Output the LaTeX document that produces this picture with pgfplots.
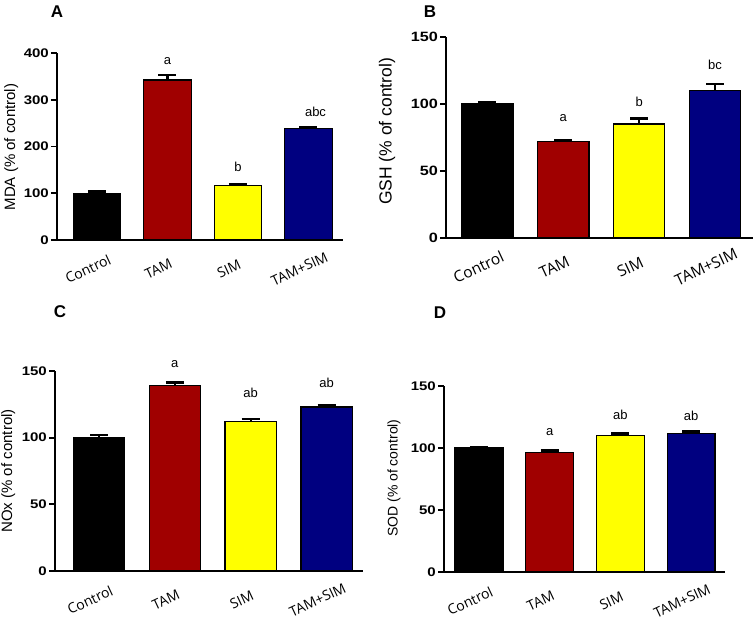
\documentclass[border=0pt]{standalone}
\usepackage{pgfplots}
\pgfplotsset{compat=1.18}
\usepackage{fontspec}
\setmainfont{Liberation Sans}
\newfontfamily\tickfont[FakeStretch=1.2]{Liberation Sans}
\newfontfamily\catfont{Open Sans}
\definecolor{tamred}{RGB}{160,0,0}
\definecolor{simyel}{RGB}{255,255,0}
\definecolor{combo}{RGB}{0,0,128}

\pgfplotsset{
  panel/.style={
    scale only axis, anchor=south west, clip=false,
    axis x line*=bottom, axis y line*=left,
    axis line style={-, line width=1.8pt, black},
    ymin=0, xtick={0,1,2,3}, xticklabels={Control,TAM,SIM,TAM+SIM},
    x tick style={draw=none},
    y tick style={line width=1.8pt, black},
    major tick length=6pt, tick align=outside,
    /pgf/number format/assume math mode=true,
    yticklabel style={font=\tickfont\bfseries\fontsize{12.5}{13}\selectfont, inner sep=2pt},
    xticklabel style={font=\catfont\fontsize{14}{15}\selectfont, anchor=center,
      xshift=-9pt, yshift=-23pt, rotate=25},
    ybar, bar shift=0pt, bar width=0.675,
    every axis y label/.style={rotate=90, anchor=center},
  },
  gbar/.style={draw=black, line width=1.3pt, fill=#1,
    error bars/.cd, y dir=plus, y explicit,
    error bar style={line width=2.2pt, black},
    error mark options={rotate=90, mark size=9pt, line width=2.6pt, black}},
}
\tikzset{ann/.style={font=\fontsize{13}{13}\selectfont, anchor=center}}

\begin{document}
\begin{tikzpicture}
\path[use as bounding box] (0,0) rectangle (753pt,626pt);

% A: MDA
\begin{axis}[panel, at={(57pt,386pt)}, width=286pt, height=187pt,
  xmin=-0.567, xmax=3.49, ymax=400, ytick={0,100,200,300,400},
  ylabel={MDA (\% of control)},
  ylabel style={at={(axis description cs:-0.16,0.497)}, font=\fontsize{15}{15}\selectfont}]
\addplot[gbar=black]  coordinates {(0,100) +- (0,4)};
\addplot[gbar=tamred] coordinates {(1,342) +- (0,11)};
\addplot[gbar=simyel] coordinates {(2,116) +- (0,4)};
\addplot[gbar=combo]  coordinates {(3,239) +- (0,3)};
\node[ann] at (axis cs:1,383) {a};
\node[ann] at (axis cs:2,156) {b};
\node[ann] at (axis cs:3.1,274) {abc};
\end{axis}

% B: GSH
\begin{axis}[panel, at={(446pt,388pt)}, width=307pt, height=201pt,
  xmin=-0.547, xmax=3.50, ymax=150, ytick={0,50,100,150},
  yticklabel style={font=\tickfont\bfseries\fontsize{13.5}{14}\selectfont},
  xticklabel style={font=\catfont\fontsize{15.5}{16}\selectfont},
  ylabel={GSH (\% of control)},
  ylabel style={at={(axis description cs:-0.192,0.53)}, font=\fontsize{17.5}{18}\selectfont}]
\addplot[gbar=black]  coordinates {(0,100) +- (0,1)};
\addplot[gbar=tamred] coordinates {(1,72) +- (0,1)};
\addplot[gbar=simyel] coordinates {(2,85) +- (0,4)};
\addplot[gbar=combo]  coordinates {(3,110) +- (0,5)};
\node[ann] at (axis cs:1,89.6) {a};
\node[ann] at (axis cs:2,101.5) {b};
\node[ann] at (axis cs:3,129) {bc};
\end{axis}

% C: NOx
\begin{axis}[panel, at={(55pt,55pt)}, width=308pt, height=200pt,
  xmin=-0.58, xmax=3.48, ymax=150, ytick={0,50,100,150},
  ylabel={NOx (\% of control)},
  ylabel style={at={(axis description cs:-0.152,0.5)}, font=\fontsize{15}{15}\selectfont}]
\addplot[gbar=black]  coordinates {(0,100) +- (0,2)};
\addplot[gbar=tamred] coordinates {(1,139.3) +- (0,2)};
\addplot[gbar=simyel] coordinates {(2,112) +- (0,2)};
\addplot[gbar=combo]  coordinates {(3,123) +- (0,1.5)};
\node[ann] at (axis cs:1,155) {a};
\node[ann] at (axis cs:2,133.5) {ab};
\node[ann] at (axis cs:3,141) {ab};
\end{axis}

% D: SOD
\begin{axis}[panel, at={(444pt,54pt)}, width=281pt, height=186pt,
  xmin=-0.495, xmax=3.48, ymax=150, ytick={0,50,100,150},
  ylabel={SOD (\% of control)},
  ylabel style={at={(axis description cs:-0.178,0.505)}, font=\fontsize{14}{14}\selectfont}]
\addplot[gbar=black]  coordinates {(0,100) +- (0,0.5)};
\addplot[gbar=tamred] coordinates {(1,96.5) +- (0,1.5)};
\addplot[gbar=simyel] coordinates {(2,110) +- (0,1.5)};
\addplot[gbar=combo]  coordinates {(3,111.5) +- (0,2)};
\node[ann] at (axis cs:1,113) {a};
\node[ann] at (axis cs:2,126.6) {ab};
\node[ann] at (axis cs:3,125.8) {ab};
\end{axis}

\node[font=\bfseries\fontsize{17}{17}\selectfont] at (57pt,614pt) {A};
\node[font=\bfseries\fontsize{17}{17}\selectfont] at (430pt,614pt) {B};
\node[font=\bfseries\fontsize{17}{17}\selectfont] at (60pt,314pt) {C};
\node[font=\bfseries\fontsize{17}{17}\selectfont] at (440pt,313pt) {D};
\end{tikzpicture}
\end{document}
